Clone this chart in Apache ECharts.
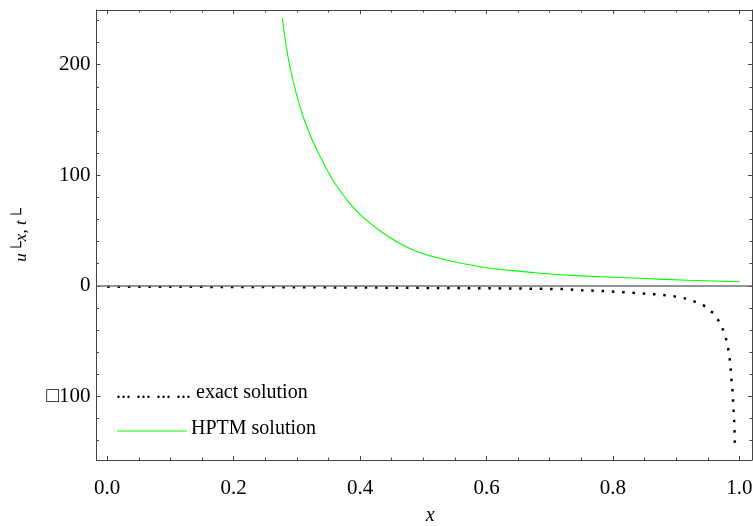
<!DOCTYPE html>
<html>
<head>
<meta charset="utf-8">
<script src="https://cdn.jsdelivr.net/npm/echarts@6/dist/echarts.min.js"></script>
<style>
  html, body { margin: 0; padding: 0; background: #fff; }
  #solution_chart { width: 753px; height: 526px; }
</style>
</head>
<body>
<div id="solution_chart"></div>
<script>
// HPTM solution (green curve)
var hptmX = [0.277, 0.289, 0.310, 0.339, 0.380, 0.4315, 0.484, 0.537, 0.590, 0.642, 0.685, 0.716, 0.780, 0.843, 0.920, 1.0];
var hptmY = [241.9, 198.1, 152.9, 114.4, 77.0, 49.8, 32.4, 23.3, 17.3, 13.7, 11.3, 10.0, 8.2, 6.8, 5.0, 3.7];

// exact solution (dotted curve)
var exactX = [0.0, 0.2, 0.459, 0.60, 0.7206, 0.752, 0.786, 0.819, 0.834, 0.851, 0.867, 0.884, 0.900, 0.916, 0.931, 0.946, 0.959, 0.969, 0.976, 0.981, 0.984, 0.986, 0.987, 0.989, 0.990, 0.991, 0.992, 0.9925, 0.993];
var exactY = [-0.8, -1.0, -1.7, -2.2, -2.9, -4.1, -4.7, -5.9, -6.5, -7.1, -7.7, -8.6, -9.8, -11.6, -14.6, -18.5, -24.9, -33.0, -42.4, -52.0, -62.6, -72.8, -82.7, -93.0, -103.5, -113.8, -124.0, -134.3, -144.6];

// tick labels
var xTickLabels = { "0": "0.0", "0.2": "0.2", "0.4": "0.4", "0.6": "0.6", "0.8": "0.8", "1": "1.0" };
var yTickLabels = { "-100": "\u25a1100", "0": "0", "100": "100", "200": "200" };

var legendNames = ["exact solution", "HPTM solution"];

function pairs(xs, ys) {
  return xs.map(function (x, i) { return [x, ys[i]]; });
}

var serif = '"Liberation Serif", "Times New Roman", serif';
var frameColor = "#444";

// one axis for major ticks + labels, one for minor ticks, on each side
// (echarts flips an axis to the other side when its side is taken,
//  so the order below ends up with one major + one minor per side)
function xAxisDef(pos, major) {
  return {
    type: "value",
    position: pos,
    min: -0.017,
    max: 1.02,
    splitNumber: major ? 5 : 20,
    axisLine: { show: major, onZero: false, lineStyle: { color: frameColor, width: 1 } },
    axisTick: { show: true, inside: true, length: major ? 4 : 2.5, lineStyle: { color: frameColor, width: 1 } },
    axisLabel: {
      show: major && pos === "bottom",
      showMinLabel: false,
      showMaxLabel: false,
      margin: 18,
      color: "#000",
      fontFamily: serif,
      fontSize: 21,
      formatter: function (v) { var k = String(+v.toFixed(3)); return xTickLabels[k] || ""; }
    },
    splitLine: { show: false },
    name: major && pos === "bottom" ? "x" : "",
    nameLocation: "middle",
    nameGap: 46,
    nameTextStyle: { fontFamily: serif, fontStyle: "italic", fontSize: 20, color: "#000", padding: [0, 0, 0, 12] }
  };
}

function yAxisDef(pos, major) {
  return {
    type: "value",
    position: pos,
    min: -157.5,
    max: 249.4,
    splitNumber: major ? 5 : 20,
    axisLine: { show: major, onZero: false, lineStyle: { color: frameColor, width: 1 } },
    axisTick: { show: true, inside: true, length: major ? 4 : 2.5, lineStyle: { color: frameColor, width: 1 } },
    axisLabel: {
      show: major && pos === "left",
      showMinLabel: false,
      showMaxLabel: false,
      margin: 6,
      color: "#000",
      fontFamily: serif,
      fontSize: 21,
      formatter: function (v) { return yTickLabels[String(Math.round(v))] || ""; }
    },
    splitLine: { show: false },
    name: major && pos === "left" ? "u\u2514x, t\u2514" : "",
    nameLocation: "middle",
    nameGap: 66,
    nameTextStyle: { fontFamily: serif, fontStyle: "italic", fontSize: 17, color: "#000" }
  };
}

var el = document.getElementById("solution_chart");
var chart = echarts.init(el, null, { renderer: "canvas" });

var option = {
  animation: false,
  backgroundColor: "#fff",
  grid: { left: 96.5, right: 1, top: 10, bottom: 66, containLabel: false, outerBoundsMode: "none" },
  xAxis: [xAxisDef("bottom", true), xAxisDef("top", true), xAxisDef("bottom", false), xAxisDef("top", false)],
  yAxis: [yAxisDef("left", true), yAxisDef("right", true), yAxisDef("left", false), yAxisDef("right", false)],
  series: [
    {
      name: legendNames[0],
      type: "line",
      data: pairs(exactX, exactY),
      showSymbol: false,
      smooth: false,
      lineStyle: { color: "#000", width: 2.5, type: [2.5, 7.8], cap: "butt" },
      // the axis drawn through y = 0
      markLine: {
        silent: true,
        symbol: "none",
        label: { show: false },
        lineStyle: { color: "#707070", width: 1.6, type: "solid" },
        data: [{ yAxis: 0 }]
      },
      z: 3
    },
    {
      name: legendNames[1],
      type: "line",
      data: pairs(hptmX, hptmY),
      showSymbol: false,
      smooth: 0.4,
      lineStyle: { color: "#00ff00", width: 1.1 },
      z: 4
    }
  ],
  // hand-drawn legend, as in the figure
  graphic: [
    {
      type: "text",
      left: 116,
      top: 383,
      style: { text: "... ... ... ... " + legendNames[0], fill: "#000", font: "20px " + serif }
    },
    {
      type: "line",
      shape: { x1: 117, y1: 431, x2: 187, y2: 431 },
      style: { stroke: "#00ff00", lineWidth: 1.1 }
    },
    {
      type: "text",
      left: 191,
      top: 419,
      style: { text: legendNames[1], fill: "#000", font: "20px " + serif }
    }
  ]
};

chart.setOption(option);
</script>
</body>
</html>
